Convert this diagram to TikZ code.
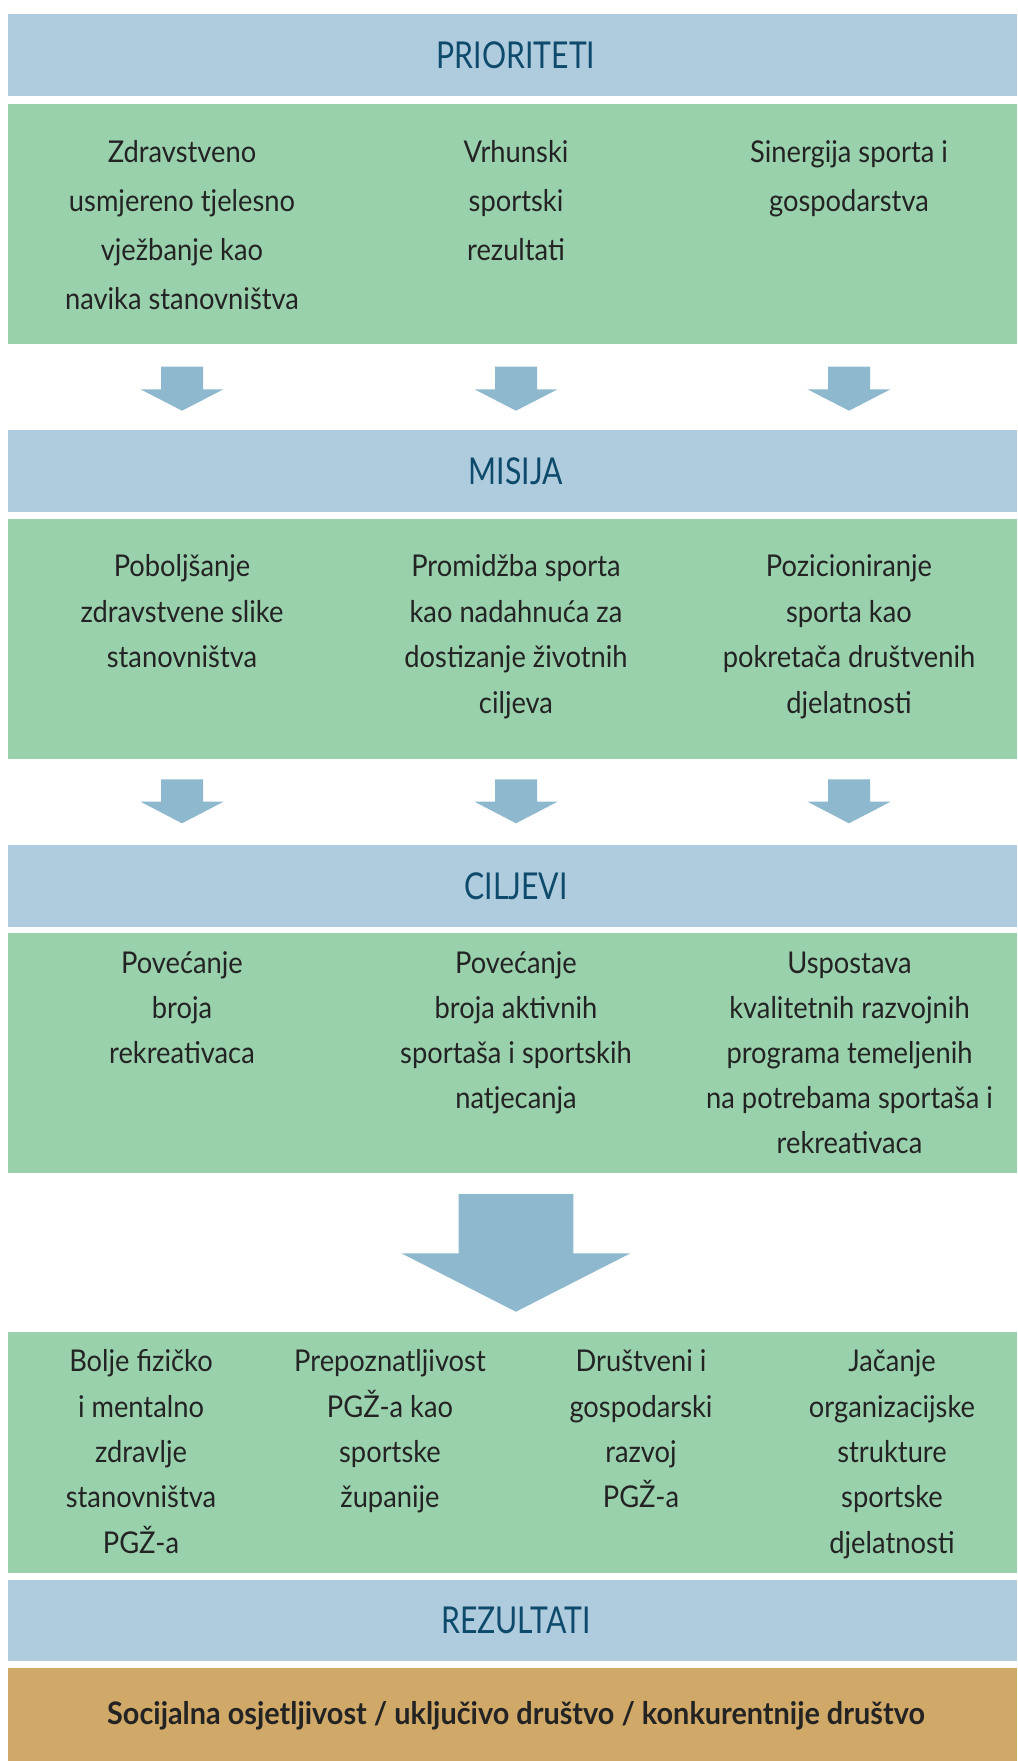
\documentclass[tikz,border=0pt]{standalone}
\usepackage{fontspec}
\setmainfont{Lato}
\newfontfamily\bodyfont[FakeStretch=0.91]{Lato}
\newfontfamily\titlefont[FakeStretch=0.815]{Lato}
\newfontfamily\goldfont[FakeStretch=0.93]{Lato}
\definecolor{bandblue}{RGB}{174,204,221}
\definecolor{bandgreen}{RGB}{154,209,173}
\definecolor{arrowcol}{RGB}{142,184,206}
\definecolor{bandgold}{RGB}{208,168,103}
\definecolor{titlecol}{RGB}{13,74,107}
\definecolor{textcol}{RGB}{35,35,35}
\newcommand\smallarrow[4]{%
  \fill[arrowcol] ({#1-21},#2) -- ({#1+21},#2) -- ({#1+21},#3) -- ({#1+41.5},#3)
    -- (#1,#4) -- ({#1-41.5},#3) -- ({#1-21},#3) -- cycle;}
\tikzset{
  bandbox/.style={rectangle, draw=none, inner sep=0pt, anchor=north west, minimum width=1009pt},
  blueband/.style={bandbox, fill=bandblue, minimum height=81.7pt},
  greenband/.style={bandbox, fill=bandgreen, minimum height=240pt},
  goldband/.style={bandbox, fill=bandgold, minimum height=93pt},
  title/.style={inner sep=0pt, anchor=center, text=titlecol, font=\titlefont\fontsize{37}{44}\selectfont},
  body/.style={inner sep=0pt, anchor=base, text=textcol, font=\bodyfont\fontsize{30}{36}\selectfont},
  goldtext/.style={inner sep=0pt, anchor=base, text=textcol, font=\goldfont\bfseries\fontsize{31}{37}\selectfont},
}
\begin{document}
\begin{tikzpicture}[x=1pt,y=-1pt]
\useasboundingbox (0,0) rectangle (1017,1761);
% bands
\node[blueband] (b1) at (8,14) {};
\node[greenband] (g1) at (8,104) {};
\node[blueband] (b2) at (8,430) {};
\node[greenband] (g2) at (8,518.3) {};
\node[blueband] (b3) at (8,845) {};
\node[greenband] (g3) at (8,932.3) {};
\node[greenband, minimum height=240.7pt] (g4) at (8,1332) {};
\node[blueband, minimum height=81.4pt] (b4) at (8,1579.3) {};
\node[goldband] (gd) at (8,1668) {};
% titles
\node[title] (t1) at (516,55) {PRIORITETI};
\node[title] (t2) at (516,471) {MISIJA};
\node[title] (t3) at (516,886) {CILJEVI};
\node[title] (t4) at (516,1620) {REZULTATI};
% arrows
\smallarrow{182}{366.7}{389.3}{410.7}
\smallarrow{516}{366.7}{389.3}{410.7}
\smallarrow{849}{366.7}{389.3}{410.7}
\smallarrow{182}{779.3}{801.7}{823.3}
\smallarrow{516}{779.3}{801.7}{823.3}
\smallarrow{849}{779.3}{801.7}{823.3}
\fill[arrowcol] (458.5,1194) -- (573.3,1194) -- (573.3,1253.3) -- (630.4,1253.3)
  -- (515.9,1311.7) -- (401.4,1253.3) -- (458.5,1253.3) -- cycle;
% green 1
\foreach \t [count=\i] in {Zdravstveno,usmjereno tjelesno,vježbanje kao,navika stanovništva}
  \node[body] (p1-\i) at (182,{162.7+48.9*(\i-1)}) {\t};
\foreach \t [count=\i] in {Vrhunski,sportski,rezultati}
  \node[body] (p2-\i) at (516,{162.7+48.9*(\i-1)}) {\t};
\foreach \t [count=\i] in {Sinergija sporta i,gospodarstva}
  \node[body] (p3-\i) at (849,{162.7+48.9*(\i-1)}) {\t};
% green 2
\foreach \t [count=\i] in {Poboljšanje,zdravstvene slike,stanovništva}
  \node[body] (m1-\i) at (182,{576.7+45.5*(\i-1)}) {\t};
\foreach \t [count=\i] in {Promidžba sporta,kao nadahnuća za,dostizanje životnih,ciljeva}
  \node[body] (m2-\i) at (516,{576.7+45.5*(\i-1)}) {\t};
\foreach \t [count=\i] in {Pozicioniranje,sporta kao,pokretača društvenih,djelatnosti}
  \node[body] (m3-\i) at (849,{576.7+45.5*(\i-1)}) {\t};
% green 3
\foreach \t [count=\i] in {Povećanje,broja,rekreativaca}
  \node[body] (c1-\i) at (182,{973.3+45*(\i-1)}) {\t};
\foreach \t [count=\i] in {Povećanje,broja aktivnih,sportaša i  sportskih,natjecanja}
  \node[body] (c2-\i) at (516,{973.3+45*(\i-1)}) {\t};
\foreach \t [count=\i] in {Uspostava,kvalitetnih razvojnih,programa temeljenih,na potrebama sportaša i,rekreativaca}
  \node[body] (c3-\i) at (849.5,{973.3+45*(\i-1)}) {\t};
% green 4
\foreach \t [count=\i] in {Bolje fizičko,i mentalno,zdravlje,stanovništva,PGŽ-a}
  \node[body] (r1-\i) at (141,{1371.6+45.4*(\i-1)}) {\t};
\foreach \t [count=\i] in {Prepoznatljivost,PGŽ-a kao,sportske,županije}
  \node[body] (r2-\i) at (390,{1371.6+45.4*(\i-1)}) {\t};
\foreach \t [count=\i] in {Društveni i,gospodarski,razvoj,PGŽ-a}
  \node[body] (r3-\i) at (641,{1371.6+45.4*(\i-1)}) {\t};
\foreach \t [count=\i] in {Jačanje,organizacijske,strukture,sportske,djelatnosti}
  \node[body] (r4-\i) at (892,{1371.6+45.4*(\i-1)}) {\t};
% gold
\node[goldtext] (gt) at (516,1724.3) {Socijalna osjetljivost / uključivo društvo / konkurentnije društvo};
\end{tikzpicture}
\end{document}
